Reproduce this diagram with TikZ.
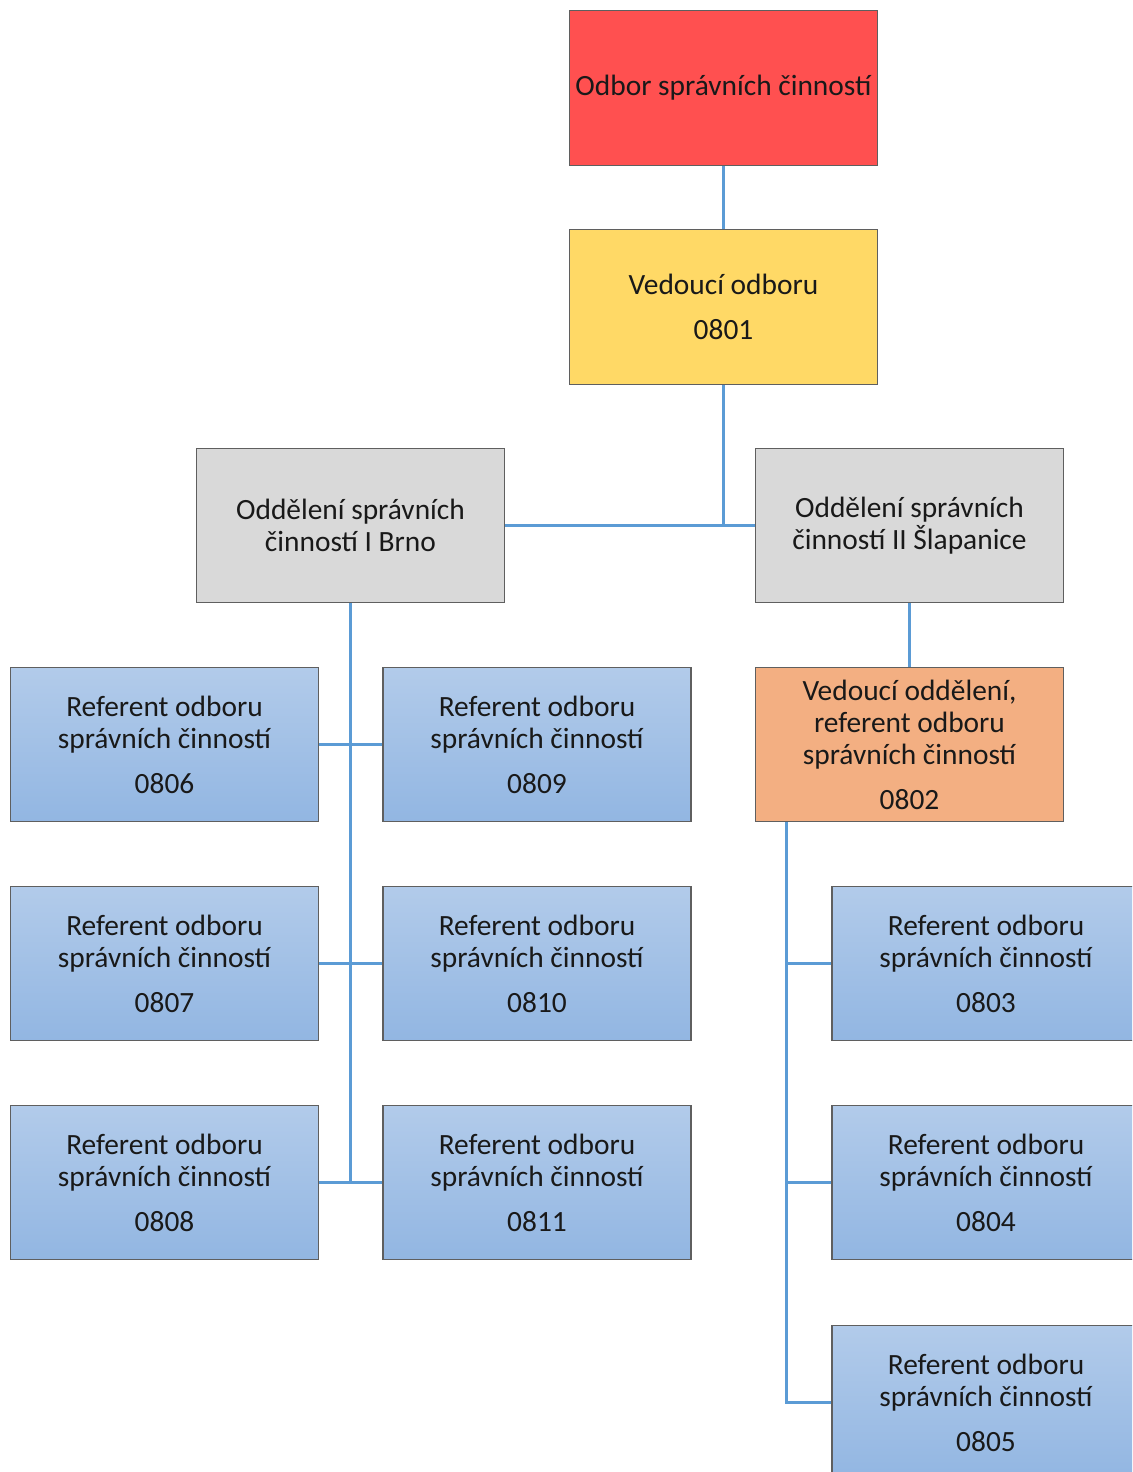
\documentclass[tikz,border=0pt]{standalone}
\usepackage{fontspec}
\setmainfont{Carlito}
\usetikzlibrary{shadings}
\definecolor{conn}{RGB}{91,155,213}
\definecolor{redfill}{RGB}{255,80,80}
\definecolor{yelfill}{RGB}{255,217,102}
\definecolor{grayfill}{RGB}{217,217,217}
\definecolor{orfill}{RGB}{243,175,130}
\definecolor{bluetop}{RGB}{178,203,234}
\definecolor{bluebot}{RGB}{146,182,226}
\definecolor{border}{RGB}{95,95,95}
\begin{document}
\begin{tikzpicture}[x=0.5pt,y=-0.5pt,
  orgbox/.style={draw=border, line width=0.6pt, minimum width=154pt, minimum height=77.3pt,
    inner sep=0pt, align=center, font=\fontsize{14.7}{16}\selectfont, text=black!90},
  redbox/.style={orgbox, fill=redfill},
  yelbox/.style={orgbox, fill=yelfill},
  graybox/.style={orgbox, fill=grayfill},
  orbox/.style={orgbox, fill=orfill},
  bluebox/.style={orgbox, top color=bluetop, bottom color=bluebot},
  conline/.style={draw=conn, line width=1.5pt}]
\useasboundingbox (0,0) rectangle (1132,1472);
\clip (0,0) rectangle (1132,1472);
\fill[white] (0,0) rectangle (1132,1472);

\node[redbox] (red) at (723.5,88) {Odbor správních činností};
\node[yelbox] (yel) at (723.5,307) {Vedoucí odboru\\[6.5pt]0801};
\node[graybox] (gl) at (350.5,525.5) {Oddělení správních\\činností I Brno};
\node[graybox] (gr) at (909.5,525.5) {Oddělení správních\\činností II Šlapanice};
\node[orbox] (or) at (909.5,744.5) {Vedoucí oddělení,\\referent odboru\\správních činností\\[6.5pt]0802};

\node[bluebox] (l1) at (164.5,744.5) {Referent odboru\\správních činností\\[6.5pt]0806};
\node[bluebox] (l2) at (164.5,963.5) {Referent odboru\\správních činností\\[6.5pt]0807};
\node[bluebox] (l3) at (164.5,1182.5) {Referent odboru\\správních činností\\[6.5pt]0808};
\node[bluebox] (m1) at (537,744.5) {Referent odboru\\správních činností\\[6.5pt]0809};
\node[bluebox] (m2) at (537,963.5) {Referent odboru\\správních činností\\[6.5pt]0810};
\node[bluebox] (m3) at (537,1182.5) {Referent odboru\\správních činností\\[6.5pt]0811};
\node[bluebox] (r1) at (986,963.5) {Referent odboru\\správních činností\\[6.5pt]0803};
\node[bluebox] (r2) at (986,1182.5) {Referent odboru\\správních činností\\[6.5pt]0804};
\node[bluebox] (r3) at (986,1402.5) {Referent odboru\\správních činností\\[6.5pt]0805};

% connectors
\draw[conline] (red) -- (yel);
\coordinate (j1) at (yel.south |- gl.east);
\draw[conline] (yel.south) -- (j1);
\draw[conline] (gl.east) -- (gr.west);
\coordinate (jl) at (gl.south |- l3.east);
\draw[conline] (gl.south) -- (jl);
\draw[conline] (l1.east) -- (m1.west);
\draw[conline] (l2.east) -- (m2.west);
\draw[conline] (l3.east) -- (m3.west);
\draw[conline] (gr) -- (or);
\coordinate (ob) at ([xshift=16pt]or.south west);
\draw[conline] (ob) |- (r3.west);
\draw[conline] (ob |- r1.west) -- (r1.west);
\draw[conline] (ob |- r2.west) -- (r2.west);
\end{tikzpicture}
\end{document}
